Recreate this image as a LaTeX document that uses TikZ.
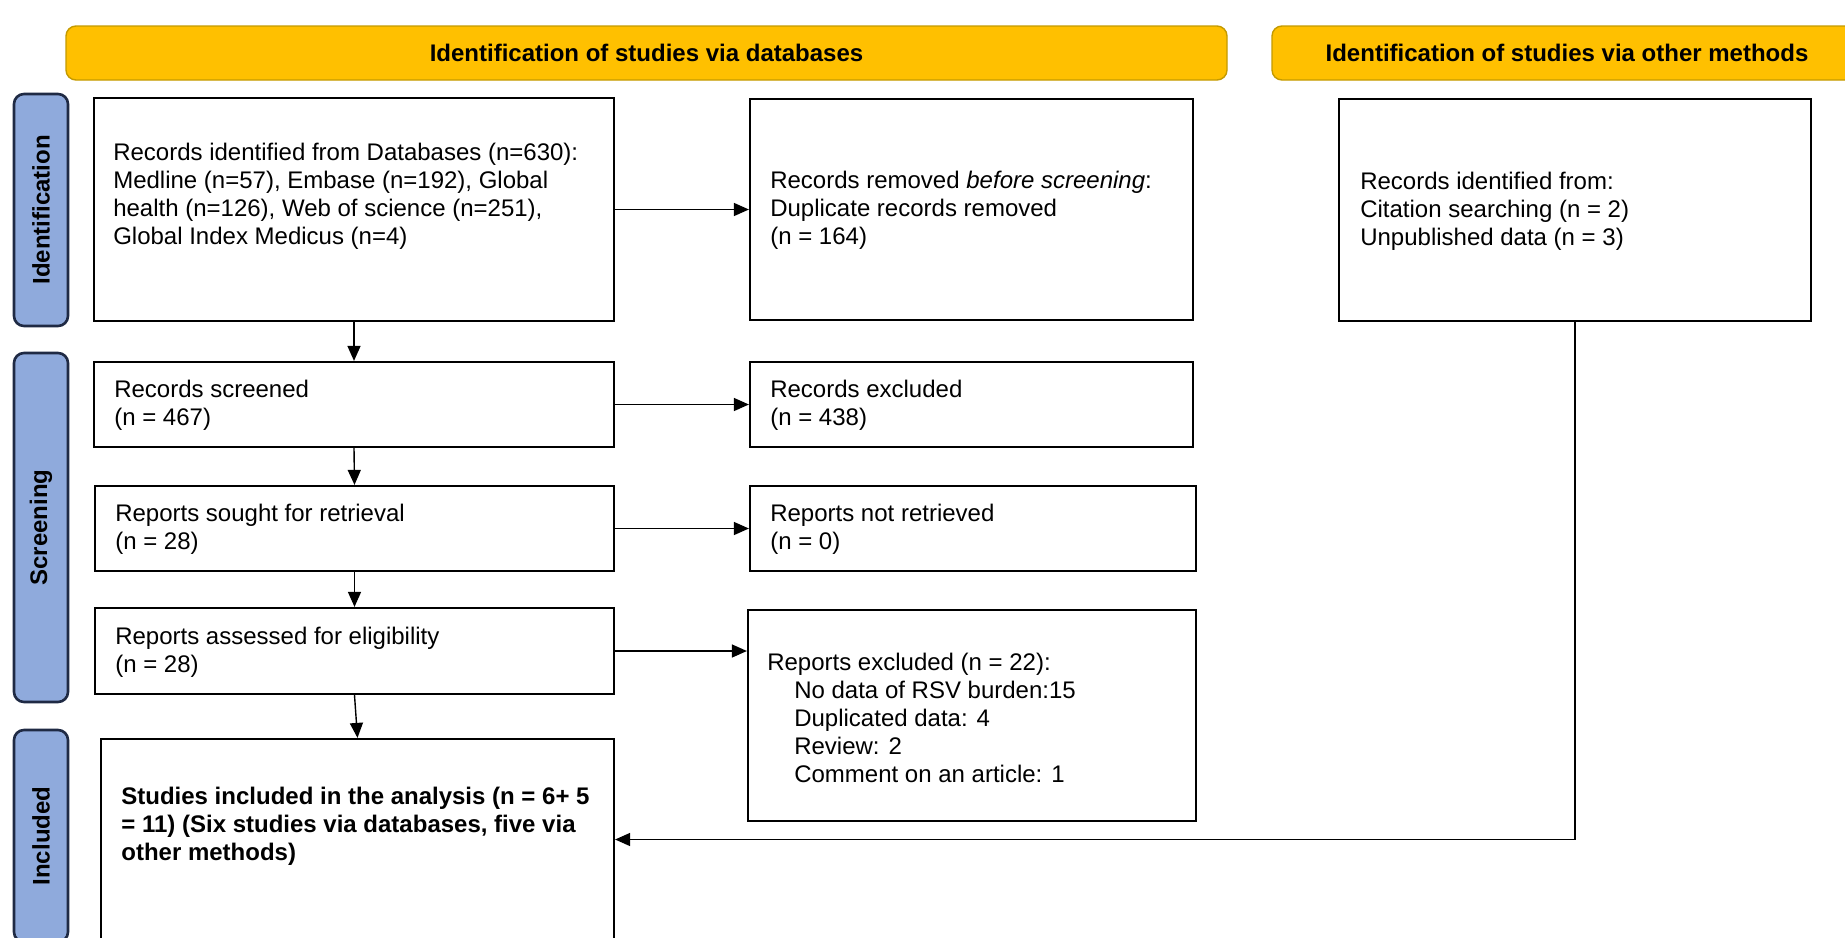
\documentclass[tikz,border=0pt]{standalone}
\usepackage{fontspec}
\setmainfont{Liberation Sans}
\usetikzlibrary{arrows.meta,fit}
\definecolor{hdr}{HTML}{FFC000}
\definecolor{hdrline}{HTML}{C49A00}
\definecolor{side}{HTML}{8FAADC}
\definecolor{sideline}{HTML}{1F2A44}
\begin{document}
\begin{tikzpicture}[x=0.5pt,y=-0.5pt,
  box/.style={draw=black, line width=1.1pt, fill=white, inner sep=0pt},
  txt/.style={anchor=west, align=left, inner sep=0pt, font=\fontsize{12}{14}\selectfont},
  hdrbox/.style={draw=hdrline, line width=0.7pt, fill=hdr, rounded corners=5pt, inner sep=0pt},
  hdrtxt/.style={font=\fontsize{12}{14}\selectfont\bfseries, inner sep=0pt},
  sidebox/.style={draw=sideline, line width=1.3pt, fill=side, rounded corners=5pt, inner sep=0pt},
  sidetxt/.style={rotate=90, font=\fontsize{12}{14}\selectfont\bfseries, inner sep=0pt},
  arr/.style={-{Triangle[length=7.5pt,width=6.5pt]}, line width=0.7pt}]
\clip (0,0) rectangle (1845,937);
\fill[white] (0,0) rectangle (1845,937);

% headers
\node[hdrbox, fit={(66,26) (1227,80)}] (h1) {};
\node[hdrtxt] (h1t) at (h1.center) {Identification of studies via databases};
\node[hdrbox, fit={(1272,26) (1862,80)}] (h2) {};
\node[hdrtxt] (h2t) at (h2.center) {Identification of studies via other methods};

% side labels
\node[sidebox, fit={(14,94) (68,326)}] (s1) {};
\node[sidetxt] (s1t) at (s1.center) {Identification};
\node[sidebox, fit={(14,353) (68,702)}] (s2) {};
\node[sidetxt] (s2t) at (s2.center) {Screening};
\node[sidebox, fit={(14,730) (68,942)}] (s3) {};
\node[sidetxt] (s3t) at (s3.center) {Included};

% boxes
\node[box, fit={(94,98) (614,321)}] (A) {};
\node[box, fit={(750,99) (1193,320)}] (B) {};
\node[box, fit={(1339,99) (1811,321)}] (C) {};
\node[box, fit={(94,362) (614,447)}] (D) {};
\node[box, fit={(750,362) (1193,447)}] (E) {};
\node[box, fit={(95,486) (614,571)}] (F) {};
\node[box, fit={(750,486) (1196,571)}] (G) {};
\node[box, fit={(95,608) (614,694)}] (H) {};
\node[box, fit={(748,610) (1196,821)}] (I) {};
\node[box, fit={(101,739) (614,950)}] (J) {};

% texts
\node[txt] (tA) at ([xshift=10pt,yshift=6.5pt]A.west) {Records identified from Databases (n=630):\\Medline (n=57), Embase (n=192), Global\\health (n=126), Web of science (n=251),\\Global Index Medicus (n=4)};
\node[txt] (tB) at ([xshift=10.5pt,yshift=-0.5pt]B.west) {Records removed \textit{before screening}:\\Duplicate records removed\\(n = 164)};
\node[txt] (tC) at ([xshift=11pt,yshift=-0.5pt]C.west) {Records identified from:\\Citation searching (n = 2)\\Unpublished data (n = 3)};
\node[txt] (tD) at ([xshift=10.5pt,yshift=-0.5pt]D.west) {Records screened\\(n = 467)};
\node[txt] (tE) at ([xshift=10.5pt,yshift=-0.5pt]E.west) {Records excluded\\(n = 438)};
\node[txt] (tF) at ([xshift=10.5pt,yshift=-0.5pt]F.west) {Reports sought for retrieval\\(n = 28)};
\node[txt] (tG) at ([xshift=10.5pt,yshift=-0.5pt]G.west) {Reports not retrieved\\(n = 0)};
\node[txt] (tH) at ([xshift=10.5pt,yshift=-0.5pt]H.west) {Reports assessed for eligibility\\(n = 28)};
\node[txt] (tI) at ([xshift=10pt,yshift=-1pt]I.west) {Reports excluded (n = 22):\\\hspace*{13.5pt}No data of RSV burden:15\\\hspace*{13.5pt}Duplicated data: 4\\\hspace*{13.5pt}Review: 2\\\hspace*{13.5pt}Comment on an article: 1};
\node[txt, font=\fontsize{12}{14}\selectfont\bfseries] (tJ) at (121,826) {Studies included in the analysis (n = 6+ 5\\= 11) (Six studies via databases, five via\\other methods)};

% connectors
\draw[arr] (A.east) -- (B.west);
\draw[arr] (A.south) -- (D.north);
\draw[arr] (D.east) -- (E.west);
\draw[arr] (D.south) -- (F.north);
\draw[arr] (F.east) -- (G.west);
\draw[arr] (F.south) -- (H.north);
\draw[arr] (H.east) -- (H.east -| I.west);
\draw[arr] (H.south) -- (J.north);
\draw[arr] (C.south) |- ([yshift=2.5pt]J.east);
\end{tikzpicture}
\end{document}
